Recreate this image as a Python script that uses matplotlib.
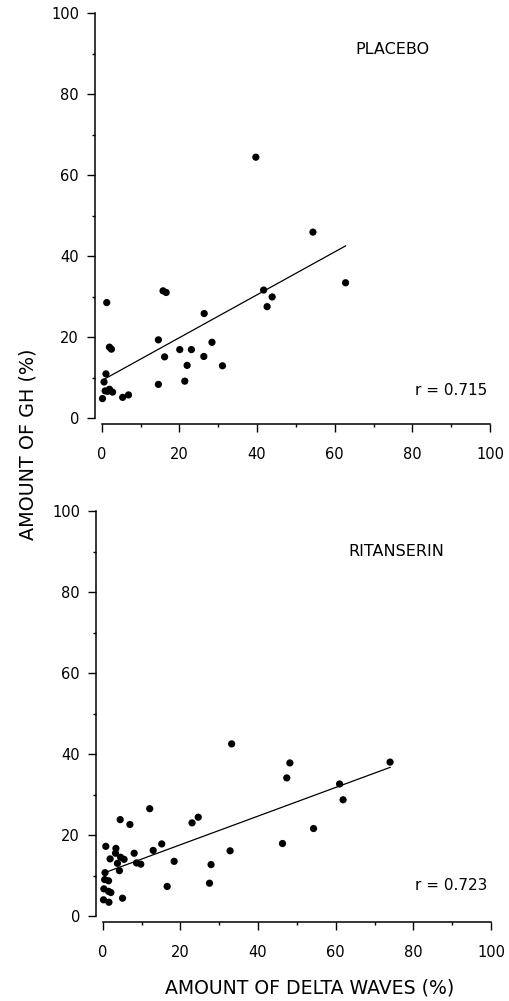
import matplotlib
matplotlib.use("Agg")
import matplotlib.pyplot as plt
from matplotlib.ticker import MultipleLocator

plt.rcParams['font.family'] = ['DejaVu Sans']

# ---- data ----
placebo_x = [54.4, 62.8, 39.7, 41.7, 43.9, 42.6, 26.4, 15.8, 16.6, 1.3, 2.0, 2.5,
             14.6, 28.4, 20.1, 23.1, 16.2, 26.3, 22.0, 31.1, 14.6, 21.4, 1.1, 0.6,
             0.9, 2.0, 2.8, 1.5, 0.2, 5.4, 6.9]
placebo_y = [45.9, 33.4, 64.4, 31.6, 29.9, 27.5, 25.8, 31.4, 31.0, 28.5, 17.5, 17.0,
             19.3, 18.7, 16.9, 16.9, 15.1, 15.2, 13.0, 12.9, 8.3, 9.1, 10.9, 8.9,
             6.7, 7.1, 6.4, 6.6, 4.8, 5.1, 5.7]
placebo_fit_x = [0.3, 62.8]
placebo_fit_y = [9.4, 42.5]
placebo_label = "PLACEBO"
placebo_r = "r = 0.715"

rit_x = [33.2, 74.0, 48.2, 47.4, 61.0, 61.9, 12.1, 24.6, 23.0, 4.5, 7.0, 54.3,
         46.3, 15.2, 0.8, 3.4, 13.0, 32.8, 8.1, 1.9, 3.3, 4.6, 5.5, 3.8, 4.3,
         18.4, 27.9, 8.7, 9.8, 0.6, 0.5, 1.5, 16.6, 27.5, 0.3, 1.5, 2.1, 5.1,
         0.2, 1.6]
rit_y = [42.5, 38.0, 37.8, 34.1, 32.6, 28.7, 26.5, 24.4, 23.0, 23.8, 22.6, 21.6,
         17.9, 17.8, 17.2, 16.7, 16.2, 16.1, 15.5, 14.1, 15.5, 14.5, 14.0, 13.0,
         11.2, 13.5, 12.7, 13.1, 12.8, 10.7, 9.0, 8.7, 7.3, 8.1, 6.7, 6.1, 5.8,
         4.4, 4.0, 3.4]
rit_fit_x = [0.8, 74.0]
rit_fit_y = [10.8, 36.7]
rit_label = "RITANSERIN"
rit_r = "r = 0.723"

ticks = [0, 20, 40, 60, 80, 100]
xlabel = "AMOUNT OF DELTA WAVES (%)"
ylabel = "AMOUNT OF GH (%)"

fig = plt.figure(figsize=(5.10, 10.01), dpi=100)

def panel(rect, xs, ys, fx, fy, label, label_pos, rtext, rpos):
    ax = fig.add_axes(rect)
    ax.scatter(xs, ys, s=27, color='black', edgecolors='none', clip_on=False, zorder=3)
    ax.plot(fx, fy, color='black', lw=0.9)
    ax.set_xlim(0, 100)
    ax.set_ylim(0, 100)
    ax.set_xticks(ticks)
    ax.set_yticks(ticks)
    ax.xaxis.set_minor_locator(MultipleLocator(10))
    ax.yaxis.set_minor_locator(MultipleLocator(10))
    for s in ['top', 'right']:
        ax.spines[s].set_visible(False)
    ax.spines['left'].set_position(('outward', 4.8))
    ax.spines['bottom'].set_position(('outward', 4.3))
    for s in ['left', 'bottom']:
        ax.spines[s].set_linewidth(1.1)
    ax.tick_params(axis='both', which='major', direction='out', length=5.5,
                   width=1.0, labelsize=10.5)
    ax.tick_params(axis='both', which='minor', direction='out', length=2.5, width=1.0)
    ax.tick_params(axis='x', which='major', pad=11)
    ax.tick_params(axis='y', which='major', pad=6)
    ax.text(label_pos[0], label_pos[1], label, fontsize=11.5, ha='left', va='center')
    ax.text(rpos[0], rpos[1], rtext, fontsize=11, ha='left', va='center')
    return ax

ax1 = panel([0.1994, 0.5824, 0.7614, 0.4046], placebo_x, placebo_y,
            placebo_fit_x, placebo_fit_y, placebo_label, (65.3, 91.1),
            placebo_r, (80.7, 6.9))
ax2 = panel([0.2014, 0.0849, 0.7614, 0.4046], rit_x, rit_y,
            rit_fit_x, rit_fit_y, rit_label, (63.2, 89.9),
            rit_r, (80.4, 7.6))

fig.text(28 / 510, 1 - 444 / 1001, ylabel, rotation=90, fontsize=13.8,
         ha='center', va='center')
fig.text(310 / 510, 1 - 988 / 1001, xlabel, fontsize=13.6, ha='center', va='center')

fig.savefig("out.png", dpi=100)
